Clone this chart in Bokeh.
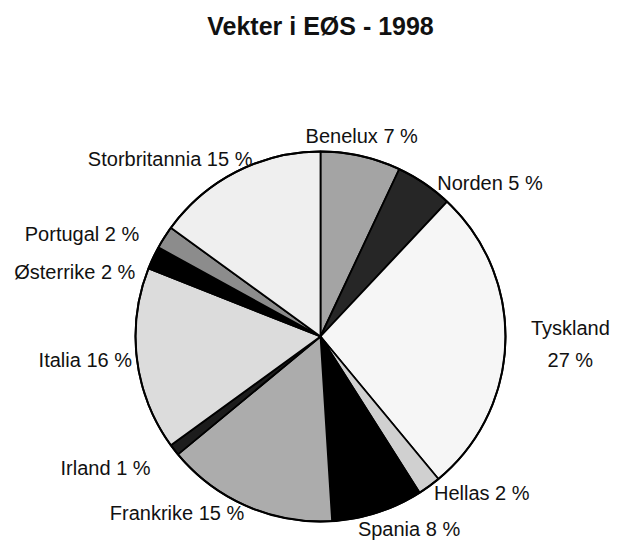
import numpy as np
from bokeh.plotting import figure
from bokeh.models import Range1d, ColumnDataSource
from bokeh.core.properties import value
from bokeh.embed import file_html
from bokeh.resources import INLINE

# ---- data ----
countries = ["Benelux", "Norden", "Tyskland", "Hellas", "Spania", "Frankrike",
             "Irland", "Italia", "Østerrike", "Portugal", "Storbritannia"]
shares = [7, 5, 27, 2, 8, 15, 1, 16, 2, 2, 15]
label_texts = ["Benelux 7 %", "Norden 5 %", "Tyskland\n27 %", "Hellas 2 %", "Spania 8 %",
               "Frankrike 15 %", "Irland 1 %", "Italia 16 %", "Østerrike 2 %",
               "Portugal 2 %", "Storbritannia 15 %"]
title_text = "Vekter i EØS - 1998"

# ---- styling / layout ----
colors = ["#a4a4a4", "#262626", "#f6f6f6", "#d0d0d0", "#000000", "#acacac",
          "#1c1c1c", "#dcdcdc", "#000000", "#8c8c8c", "#efefef"]
label_radius = [205, 193, 250, 193, 196, 192, 215, 190, 196, 208, 190]
label_nudge_deg = [-1, 3, 0, 0, 7, 0, 0, 0, -6, -3, 6]
label_align = ["center", "left", "center", "left", "left", "right",
               "right", "right", "right", "right", "right"]
R = 185
FONT = "Liberation Sans"

frac = np.array(shares, dtype=float) / sum(shares)
cum = np.concatenate([[0.0], np.cumsum(frac)])
start = np.pi / 2 - cum[:-1] * 2 * np.pi
end = np.pi / 2 - cum[1:] * 2 * np.pi
mid_cw = (cum[:-1] + cum[1:]) / 2 * 360 + np.array(label_nudge_deg)  # clockwise from top
lr = np.array(label_radius, dtype=float)
lx = lr * np.sin(np.radians(mid_cw))
ly = lr * np.cos(np.radians(mid_cw))

W, H = 617, 541
CX, CY = 320, 336  # pie centre in page pixels; 1 data unit = 1 px
p = figure(width=W, height=H, output_backend="svg", toolbar_location=None,
           x_range=Range1d(-CX, W - CX), y_range=Range1d(CY - H, CY),
           min_border=0)
p.axis.visible = False
p.grid.visible = False
p.outline_line_color = None
p.background_fill_color = "white"
p.border_fill_color = "white"

src = ColumnDataSource(dict(start=start, end=end, color=colors, name=countries))
p.wedge(x=0, y=0, radius=R, start_angle="start", end_angle="end", direction="clock",
        fill_color="color", line_color="black", line_width=1.8, source=src)
p.circle(x=0, y=0, radius=R, fill_color=None, line_color="black", line_width=2)

lsrc = ColumnDataSource(dict(x=lx, y=ly, text=label_texts, align=label_align))
p.text(x="x", y="y", text="text", text_align="align", text_baseline="middle",
       text_font=value(FONT), text_font_size="20px", text_color="#111111",
       text_line_height=1.45, source=lsrc)

p.text(x=[0], y=[CY - 25], text=[title_text], text_align="center", text_baseline="middle",
       text_font=value(FONT), text_font_size="25px", text_font_style="bold",
       text_color="#111111")

open("out.html", "w").write(file_html(p, INLINE))
